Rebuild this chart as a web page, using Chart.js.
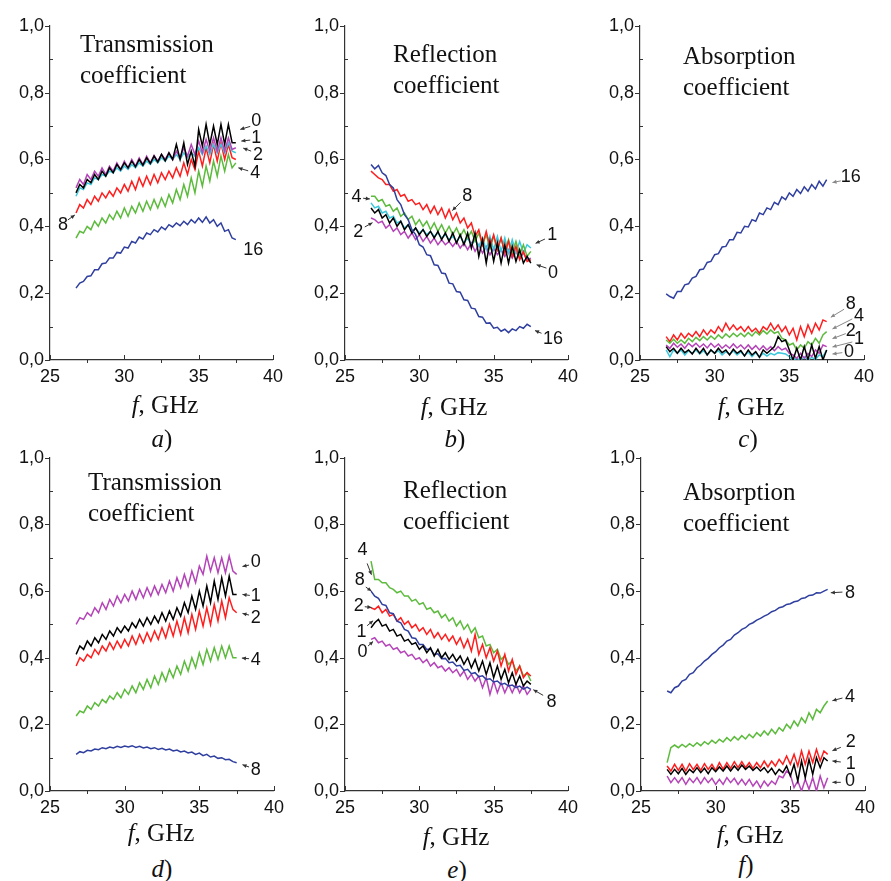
<!DOCTYPE html>
<html><head><meta charset="utf-8">
<script src="https://cdn.jsdelivr.net/npm/chart.js@4.4.1/dist/chart.umd.min.js"></script>
<style>
html,body{margin:0;padding:0;background:#fff;}
#wrap{position:relative;width:891px;height:881px;overflow:hidden;background:#fff;}
canvas{position:absolute;}
.ttl{position:absolute;font-family:"Liberation Serif","Times New Roman",serif;font-size:25px;line-height:31px;color:#111;white-space:nowrap;}
.xl,.pl{position:absolute;font-family:"Liberation Serif","Times New Roman",serif;font-size:25px;line-height:28px;color:#111;white-space:nowrap;transform:translateX(-50%);}
</style></head>
<body>
<div id="wrap">
<canvas id="ca" width="289" height="387" style="left:0px;top:9px"></canvas>
<canvas id="cb" width="289" height="387" style="left:295px;top:9px"></canvas>
<canvas id="cc" width="290" height="387" style="left:590px;top:9px"></canvas>
<canvas id="cd" width="290" height="386" style="left:0px;top:441px"></canvas>
<canvas id="ce" width="289" height="386" style="left:295px;top:441px"></canvas>
<canvas id="cf" width="290" height="386" style="left:591px;top:441px"></canvas>

<div class="ttl" style="left:80px;top:28px">Transmission<br>coefficient</div>
<div class="ttl" style="left:393px;top:38px">Reflection<br>coefficient</div>
<div class="ttl" style="left:683px;top:40px">Absorption<br>coefficient</div>
<div class="ttl" style="left:88px;top:466px">Transmission<br>coefficient</div>
<div class="ttl" style="left:403px;top:474px">Reflection<br>coefficient</div>
<div class="ttl" style="left:683px;top:476px">Absorption<br>coefficient</div>

<div class="xl" style="left:165px;top:391px"><i>f</i>, GHz</div>
<div class="xl" style="left:454px;top:393px"><i>f</i>, GHz</div>
<div class="xl" style="left:751px;top:393px"><i>f</i>, GHz</div>
<div class="xl" style="left:161px;top:819px"><i>f</i>, GHz</div>
<div class="xl" style="left:456px;top:823px"><i>f</i>, GHz</div>
<div class="xl" style="left:750px;top:821px"><i>f</i>, GHz</div>

<div class="pl" style="left:162px;top:425px"><i>a</i>)</div>
<div class="pl" style="left:455px;top:425px"><i>b</i>)</div>
<div class="pl" style="left:748px;top:425px"><i>c</i>)</div>
<div class="pl" style="left:162px;top:855px"><i>d</i>)</div>
<div class="pl" style="left:457px;top:856px"><i>e</i>)</div>
<div class="pl" style="left:746px;top:851px"><i>f</i>)</div>
</div>
<script>
// ---------- DATA ----------
const freq = [26.75,27,27.25,27.5,27.75,28,28.25,28.5,28.75,29,29.25,
29.5,29.75,30,30.25,30.5,30.75,31,31.25,31.5,31.75,32,
32.25,32.5,32.75,33,33.25,33.5,33.75,34,34.25,34.5,34.75,
35,35.25,35.5,35.75,36,36.25,36.5,36.75,37,37.25,37.5];
const yTicks = [0,0.2,0.4,0.6,0.8,1.0];
const xTicks = [25,30,35,40];

// (a) Transmission, top row
const transA0 = [0.50,0.525,0.515,0.54,0.53,0.555,0.54,0.565,0.55,0.575,0.56,
0.585,0.57,0.59,0.575,0.595,0.578,0.60,0.583,0.605,0.588,0.61,
0.592,0.615,0.596,0.62,0.60,0.645,0.60,0.65,0.585,0.625,0.58,
0.69,0.64,0.705,0.645,0.70,0.645,0.705,0.645,0.705,0.65,0.65];
const transA1 = [0.49,0.515,0.51,0.53,0.525,0.545,0.54,0.555,0.55,0.565,0.56,
0.575,0.565,0.58,0.57,0.585,0.575,0.59,0.58,0.595,0.585,0.60,
0.59,0.605,0.595,0.61,0.60,0.615,0.60,0.62,0.605,0.62,0.61,
0.635,0.615,0.64,0.615,0.645,0.62,0.645,0.62,0.65,0.625,0.62];
const transA2 = [0.515,0.54,0.525,0.555,0.54,0.565,0.55,0.575,0.555,0.58,0.565,
0.59,0.57,0.595,0.575,0.60,0.58,0.605,0.585,0.61,0.59,0.612,
0.595,0.615,0.60,0.62,0.60,0.625,0.605,0.635,0.61,0.645,0.615,
0.655,0.62,0.66,0.625,0.665,0.625,0.665,0.625,0.665,0.63,0.635];
const transA4 = [0.365,0.385,0.38,0.40,0.39,0.415,0.40,0.425,0.41,0.435,0.42,
0.445,0.425,0.455,0.43,0.46,0.44,0.47,0.445,0.475,0.45,0.48,
0.455,0.485,0.46,0.495,0.47,0.51,0.48,0.525,0.49,0.545,0.50,
0.565,0.52,0.58,0.535,0.595,0.55,0.61,0.565,0.615,0.575,0.59];
const transA8 = [0.44,0.465,0.455,0.48,0.465,0.49,0.475,0.50,0.485,0.505,0.49,
0.515,0.50,0.525,0.505,0.535,0.51,0.545,0.52,0.55,0.525,0.555,
0.53,0.56,0.54,0.565,0.545,0.575,0.55,0.59,0.555,0.60,0.57,
0.625,0.58,0.635,0.59,0.645,0.595,0.65,0.60,0.645,0.605,0.60];
const transA16 = [0.215,0.23,0.235,0.25,0.252,0.27,0.27,0.288,0.29,0.305,0.305,
0.322,0.32,0.338,0.335,0.355,0.35,0.368,0.362,0.38,0.375,0.39,
0.383,0.398,0.39,0.405,0.398,0.41,0.402,0.415,0.405,0.42,0.41,
0.425,0.412,0.428,0.41,0.42,0.40,0.41,0.385,0.39,0.365,0.36];

// (b) Reflection, top row
const reflB0 = [0.455,0.44,0.45,0.425,0.435,0.41,0.425,0.40,0.415,0.39,0.405,
0.38,0.395,0.375,0.39,0.37,0.385,0.365,0.385,0.36,0.38,0.355,
0.38,0.35,0.375,0.345,0.38,0.335,0.38,0.31,0.36,0.29,0.355,
0.295,0.35,0.29,0.345,0.29,0.34,0.295,0.33,0.29,0.31,0.29];
const reflB1 = [0.47,0.455,0.46,0.44,0.445,0.425,0.43,0.41,0.415,0.395,0.405,
0.385,0.395,0.38,0.39,0.375,0.385,0.37,0.38,0.365,0.375,0.36,
0.37,0.355,0.37,0.35,0.365,0.345,0.36,0.34,0.365,0.33,0.37,
0.33,0.37,0.325,0.365,0.32,0.36,0.32,0.355,0.32,0.345,0.335];
const reflB2 = [0.425,0.42,0.41,0.415,0.395,0.405,0.385,0.395,0.375,0.385,0.365,
0.38,0.36,0.375,0.355,0.37,0.35,0.365,0.345,0.36,0.345,0.355,
0.34,0.355,0.335,0.35,0.33,0.35,0.325,0.345,0.32,0.34,0.315,
0.335,0.315,0.33,0.31,0.33,0.305,0.325,0.305,0.32,0.30,0.305];
const reflB4 = [0.49,0.49,0.475,0.48,0.46,0.465,0.445,0.455,0.43,0.44,0.42,
0.43,0.405,0.42,0.40,0.415,0.39,0.41,0.385,0.405,0.38,0.40,
0.375,0.395,0.37,0.39,0.365,0.385,0.355,0.38,0.345,0.375,0.335,
0.37,0.33,0.365,0.325,0.36,0.32,0.355,0.315,0.345,0.31,0.325];
const reflB8 = [0.565,0.555,0.545,0.54,0.525,0.525,0.505,0.51,0.49,0.495,0.475,
0.48,0.465,0.47,0.45,0.465,0.44,0.46,0.435,0.455,0.425,0.45,
0.42,0.44,0.41,0.425,0.395,0.41,0.37,0.39,0.345,0.385,0.34,
0.375,0.33,0.365,0.32,0.355,0.31,0.34,0.30,0.325,0.295,0.30];
const reflB16 = [0.585,0.572,0.582,0.56,0.552,0.525,0.515,0.48,0.465,0.435,0.42,
0.39,0.375,0.345,0.338,0.315,0.312,0.285,0.283,0.26,0.258,0.23,
0.228,0.205,0.203,0.18,0.178,0.155,0.153,0.13,0.128,0.11,0.111,
0.095,0.098,0.086,0.092,0.082,0.093,0.088,0.1,0.095,0.107,0.1];

// (c) Absorption, top row
const absC0 = [0.04,0.025,0.035,0.02,0.035,0.022,0.03,0.018,0.035,0.02,0.035,
0.015,0.03,0.02,0.035,0.022,0.03,0.015,0.032,0.02,0.028,0.012,
0.03,0.015,0.025,0.008,0.03,0.02,0.03,0.04,0.07,0.055,0.06,
0.03,0.0,0.035,0.0,0.04,0.0,0.045,0.005,0.04,0.0,0.03];
const absC1 = [0.03,0.01,0.03,0.02,0.03,0.015,0.028,0.02,0.03,0.018,0.028,
0.015,0.03,0.02,0.028,0.015,0.025,0.018,0.027,0.015,0.025,0.012,
0.024,0.01,0.022,0.008,0.02,0.012,0.02,0.015,0.022,0.02,0.018,
0.01,0.0,0.005,0.0,0.01,0.0,0.008,0.002,0.015,0.01,0.03];
const absC2 = [0.045,0.035,0.05,0.038,0.048,0.035,0.05,0.04,0.05,0.038,0.048,
0.036,0.05,0.038,0.048,0.035,0.045,0.035,0.048,0.036,0.045,0.033,
0.045,0.032,0.043,0.03,0.042,0.03,0.04,0.028,0.04,0.03,0.035,
0.02,0.015,0.005,0.02,0.005,0.02,0.01,0.03,0.02,0.045,0.04];
const absC4 = [0.06,0.05,0.062,0.05,0.06,0.05,0.065,0.055,0.068,0.058,0.07,
0.06,0.072,0.062,0.075,0.065,0.078,0.068,0.08,0.07,0.08,0.07,
0.082,0.072,0.085,0.075,0.088,0.078,0.09,0.08,0.085,0.065,0.06,
0.045,0.05,0.03,0.045,0.035,0.055,0.045,0.065,0.05,0.075,0.085];
const absC8 = [0.07,0.055,0.075,0.06,0.08,0.065,0.08,0.07,0.085,0.07,0.09,
0.075,0.09,0.08,0.10,0.085,0.11,0.09,0.105,0.09,0.10,0.085,
0.10,0.085,0.095,0.08,0.10,0.09,0.11,0.09,0.105,0.085,0.10,
0.075,0.095,0.06,0.10,0.07,0.105,0.08,0.11,0.09,0.12,0.115];
const absC16 = [0.198,0.19,0.185,0.205,0.205,0.225,0.228,0.245,0.25,0.27,0.272,
0.292,0.295,0.315,0.318,0.338,0.34,0.36,0.36,0.382,0.38,0.40,
0.398,0.42,0.415,0.44,0.435,0.455,0.45,0.472,0.465,0.488,0.48,
0.50,0.49,0.51,0.498,0.518,0.505,0.525,0.512,0.535,0.52,0.54];

// (d) Transmission, bottom row
const transD0 = [0.50,0.52,0.515,0.535,0.525,0.55,0.535,0.565,0.545,0.575,0.555,
0.585,0.565,0.59,0.57,0.60,0.575,0.605,0.58,0.61,0.585,0.615,
0.59,0.62,0.595,0.63,0.60,0.64,0.61,0.65,0.615,0.66,0.625,
0.675,0.65,0.705,0.66,0.70,0.655,0.70,0.655,0.705,0.66,0.65];
const transD1 = [0.41,0.435,0.425,0.45,0.435,0.46,0.445,0.47,0.455,0.48,0.465,
0.49,0.475,0.495,0.48,0.505,0.49,0.515,0.495,0.52,0.50,0.525,
0.505,0.535,0.51,0.54,0.515,0.55,0.525,0.565,0.535,0.585,0.545,
0.60,0.555,0.615,0.565,0.63,0.575,0.64,0.585,0.645,0.59,0.59];
const transD2 = [0.375,0.40,0.39,0.41,0.40,0.425,0.41,0.435,0.42,0.445,0.425,
0.45,0.43,0.455,0.435,0.465,0.44,0.47,0.445,0.475,0.45,0.48,
0.455,0.49,0.46,0.50,0.465,0.51,0.47,0.52,0.475,0.53,0.485,
0.54,0.495,0.55,0.50,0.56,0.51,0.57,0.52,0.58,0.545,0.535];
const transD4 = [0.225,0.24,0.235,0.255,0.245,0.265,0.255,0.275,0.265,0.285,0.275,
0.295,0.28,0.305,0.29,0.315,0.295,0.325,0.305,0.335,0.31,0.345,
0.32,0.355,0.33,0.365,0.34,0.375,0.35,0.39,0.36,0.40,0.37,
0.415,0.38,0.425,0.39,0.43,0.395,0.435,0.40,0.435,0.40,0.40];
const transD8 = [0.11,0.118,0.115,0.122,0.12,0.126,0.124,0.13,0.127,0.132,0.129,
0.134,0.131,0.135,0.132,0.136,0.131,0.134,0.129,0.132,0.127,0.13,
0.125,0.128,0.123,0.126,0.12,0.123,0.117,0.12,0.114,0.117,0.11,
0.114,0.106,0.11,0.102,0.105,0.098,0.1,0.094,0.095,0.088,0.085];

// (e) Reflection, bottom row
const reflE0 = [0.455,0.46,0.445,0.45,0.435,0.44,0.425,0.43,0.415,0.42,0.405,
0.41,0.395,0.40,0.385,0.395,0.375,0.385,0.37,0.375,0.36,0.37,
0.355,0.365,0.345,0.36,0.335,0.35,0.33,0.345,0.31,0.34,0.29,
0.33,0.295,0.325,0.295,0.32,0.295,0.32,0.295,0.315,0.29,0.305];
const reflE1 = [0.49,0.505,0.515,0.495,0.5,0.48,0.485,0.465,0.47,0.45,0.455,
0.44,0.445,0.425,0.435,0.415,0.43,0.405,0.425,0.4,0.415,0.395,
0.41,0.39,0.405,0.38,0.40,0.37,0.395,0.36,0.39,0.35,0.385,
0.34,0.375,0.335,0.365,0.325,0.355,0.32,0.345,0.315,0.33,0.32];
const reflE2 = [0.55,0.545,0.555,0.535,0.545,0.525,0.53,0.51,0.52,0.5,0.51,
0.49,0.5,0.48,0.49,0.47,0.485,0.46,0.475,0.455,0.47,0.45,
0.465,0.44,0.46,0.43,0.455,0.42,0.47,0.41,0.44,0.40,0.43,
0.39,0.42,0.375,0.41,0.36,0.395,0.35,0.375,0.34,0.355,0.345];
const reflE4 = [0.69,0.635,0.635,0.625,0.625,0.61,0.605,0.595,0.6,0.585,0.585,
0.57,0.575,0.56,0.565,0.545,0.55,0.535,0.54,0.52,0.53,0.51,
0.52,0.495,0.51,0.485,0.5,0.475,0.49,0.46,0.465,0.435,0.44,
0.415,0.425,0.395,0.405,0.38,0.39,0.36,0.375,0.345,0.355,0.33];
const reflE8 = [0.60,0.585,0.578,0.56,0.557,0.535,0.532,0.51,0.505,0.485,0.48,
0.46,0.458,0.44,0.44,0.425,0.427,0.41,0.412,0.397,0.398,0.385,
0.387,0.375,0.377,0.362,0.365,0.352,0.355,0.343,0.346,0.335,0.337,
0.327,0.33,0.32,0.323,0.315,0.318,0.31,0.315,0.306,0.312,0.305];

// (f) Absorption, bottom row
const absF0 = [0.045,0.025,0.04,0.025,0.04,0.02,0.038,0.025,0.04,0.022,0.04,
0.025,0.038,0.02,0.035,0.02,0.04,0.025,0.038,0.02,0.035,0.018,
0.035,0.015,0.03,0.01,0.03,0.015,0.03,0.02,0.045,0.04,0.06,
0.05,0.01,0.03,0.0,0.035,0.005,0.04,0.0,0.045,0.01,0.04];
const absF1 = [0.065,0.05,0.065,0.052,0.068,0.05,0.065,0.055,0.07,0.055,0.068,
0.052,0.07,0.058,0.072,0.06,0.075,0.06,0.075,0.062,0.078,0.065,
0.075,0.062,0.072,0.06,0.07,0.055,0.068,0.05,0.065,0.055,0.075,
0.045,0.08,0.03,0.09,0.04,0.095,0.05,0.1,0.07,0.1,0.09];
const absF2 = [0.075,0.06,0.08,0.062,0.08,0.06,0.082,0.064,0.08,0.062,0.082,
0.065,0.08,0.062,0.085,0.066,0.085,0.068,0.088,0.07,0.088,0.07,
0.085,0.068,0.085,0.07,0.09,0.072,0.09,0.075,0.095,0.08,0.105,
0.08,0.11,0.075,0.12,0.08,0.12,0.085,0.125,0.09,0.12,0.11];
const absF4 = [0.085,0.13,0.138,0.13,0.14,0.132,0.142,0.134,0.145,0.136,0.148,
0.14,0.152,0.143,0.155,0.147,0.16,0.15,0.163,0.153,0.166,0.156,
0.17,0.16,0.175,0.165,0.18,0.168,0.185,0.172,0.19,0.18,0.2,
0.188,0.21,0.195,0.22,0.205,0.235,0.215,0.245,0.235,0.255,0.27];
const absF8 = [0.30,0.295,0.31,0.315,0.33,0.335,0.35,0.355,0.37,0.378,0.39,
0.398,0.41,0.418,0.43,0.438,0.45,0.455,0.468,0.475,0.485,0.49,
0.50,0.505,0.513,0.518,0.525,0.53,0.538,0.542,0.55,0.553,0.56,
0.562,0.568,0.57,0.578,0.58,0.587,0.588,0.595,0.594,0.60,0.605];

// ---------- STYLE ----------
const C = {k:'#000000', c:'#3cc8dc', m:'#b444b8', r:'#ff1e1e', g:'#5cbb3c', b:'#2f3f9f'};
const FONT = '"Liberation Sans", Arial, sans-serif';

// curve labels: [text, fText, vText, fFrom, vFrom, fTo, vTo]
const labA = [['0',38.87,0.714,38.47,0.699,37.8,0.69],['1',38.87,0.664,38.47,0.658,37.87,0.655],
  ['2',39.0,0.614,38.53,0.625,38.0,0.634],['4',38.8,0.56,38.33,0.566,37.67,0.575],
  ['8',25.87,0.404,26.2,0.419,26.67,0.434],['16',38.67,0.33]];
const labB = [['8',33.22,0.49,32.78,0.472,32.22,0.447],['4',25.78,0.487,26.22,0.484,26.67,0.482],
  ['2',25.89,0.383,26.33,0.398,26.85,0.411],['1',38.95,0.374,38.45,0.362,37.82,0.349],
  ['0',39.0,0.26,38.55,0.275,37.89,0.285],['16',39.0,0.064,38.22,0.08,37.78,0.088]];
const labC = [['16',39.11,0.546,38.45,0.536,37.89,0.531],['8',39.11,0.167,38.67,0.152,37.78,0.128],
  ['4',39.67,0.133,39.22,0.123,37.89,0.093],['2',39.11,0.088,38.78,0.079,37.89,0.064],
  ['1',39.67,0.064,39.22,0.054,37.89,0.039],['0',39.0,0.024,38.55,0.022,37.89,0.018]];
const labD = [['0',38.78,0.688,38.33,0.678,37.89,0.674],['1',38.78,0.585,38.38,0.587,37.89,0.59],
  ['2',38.78,0.518,38.33,0.528,37.89,0.533],['4',38.78,0.393,38.33,0.397,37.85,0.399],
  ['8',38.78,0.064,38.33,0.072,37.89,0.079]];
const labE = [['4',26.18,0.723,26.49,0.683,26.78,0.649],['8',26.0,0.632,26.4,0.612,26.78,0.60],
  ['2',25.93,0.555,26.33,0.553,26.78,0.551],['1',26.11,0.478,26.49,0.496,26.89,0.511],
  ['0',26.18,0.417,26.55,0.435,26.89,0.449],['8',38.89,0.267,38.33,0.287,37.67,0.304]];
const labF = [['8',39.0,0.593,38.49,0.597,37.71,0.595],['4',39.0,0.281,38.49,0.279,37.82,0.271],
  ['2',39.05,0.146,38.38,0.131,37.82,0.121],['1',39.05,0.082,38.38,0.087,37.82,0.09],
  ['0',39.0,0.03,38.38,0.026,37.82,0.026]];

function ser(vals, color){
  return {data: freq.map((f,i)=>({x:f, y:vals[i]})), borderColor: color, borderWidth: 1.5,
    pointRadius: 0, tension: 0, fill: false};
}

function mkPlugin(items, arrowColor){
  return {id:'annot', afterDraw(chart){
    const ctx = chart.ctx, xs = chart.scales.x, ys = chart.scales.y, A = chart.chartArea;
    ctx.save();
    ctx.strokeStyle = '#333'; ctx.lineWidth = 1;
    ctx.beginPath();
    for (let i = 0; i <= 10; i++){
      const py = Math.round(ys.getPixelForValue(i/10)) + 0.5;
      if (i % 2 === 0){ ctx.moveTo(A.left - 5, py); ctx.lineTo(A.left, py); }
      else { ctx.moveTo(A.left, py); ctx.lineTo(A.left + 3, py); }
    }
    for (let f = 25; f <= 40; f += 2.5){
      const px = Math.round(xs.getPixelForValue(f)) + 0.5;
      if (f % 5 === 0){ ctx.moveTo(px, A.bottom); ctx.lineTo(px, A.bottom - 5); }
      else { ctx.moveTo(px, A.bottom); ctx.lineTo(px, A.bottom + 3); }
    }
    ctx.stroke();
    ctx.font = '18px ' + FONT; ctx.fillStyle = '#111';
    ctx.textAlign = 'center'; ctx.textBaseline = 'middle';
    items.forEach(it => {
      ctx.fillText(it[0], xs.getPixelForValue(it[1]), ys.getPixelForValue(it[2]));
      if (it.length > 3){
        const x1 = xs.getPixelForValue(it[3]), y1 = ys.getPixelForValue(it[4]);
        const x2 = xs.getPixelForValue(it[5]), y2 = ys.getPixelForValue(it[6]);
        ctx.strokeStyle = arrowColor; ctx.fillStyle = arrowColor; ctx.lineWidth = 1;
        ctx.beginPath(); ctx.moveTo(x1, y1); ctx.lineTo(x2, y2); ctx.stroke();
        const ang = Math.atan2(y2 - y1, x2 - x1), h = 4.5;
        ctx.beginPath(); ctx.moveTo(x2, y2);
        ctx.lineTo(x2 - h*Math.cos(ang - 0.45), y2 - h*Math.sin(ang - 0.45));
        ctx.lineTo(x2 - h*Math.cos(ang + 0.45), y2 - h*Math.sin(ang + 0.45));
        ctx.closePath(); ctx.fill();
        ctx.fillStyle = '#111';
      }
    });
    ctx.restore();
  }};
}

function makeChart(id, datasets, items, arrowColor){
  const axisCommon = {
    grid: {display: true, drawOnChartArea: false, drawTicks: false},
    border: {display: true, color: '#333', width: 1.2}
  };
  new Chart(document.getElementById(id), {
    type: 'line',
    data: {datasets},
    options: {
      responsive: false, animation: false, events: [],
      layout: {padding: {left: 0, top: 12, right: 14, bottom: 0}},
      plugins: {legend: {display: false}, tooltip: {enabled: false}},
      scales: {
        x: Object.assign({type: 'linear', min: 25, max: 40,
          afterBuildTicks(s){ s.ticks = xTicks.map(v => ({value: v})); },
          ticks: {padding: 6, color: '#111', font: {family: FONT, size: 18}, maxRotation: 0},
          afterFit(s){ s.height = 36; }}, axisCommon),
        y: Object.assign({type: 'linear', min: 0, max: 1,
          afterBuildTicks(s){ s.ticks = yTicks.map(v => ({value: v})); },
          ticks: {padding: 6, color: '#111', font: {family: FONT, size: 18},
            callback: v => Number(v).toFixed(1).replace('.', ',')},
          afterFit(s){ s.width = 50; }}, axisCommon)
      }
    },
    plugins: [mkPlugin(items, arrowColor)]
  });
}

makeChart('ca', [ser(transA0,C.k), ser(transA2,C.m), ser(transA1,C.c), ser(transA8,C.r), ser(transA4,C.g), ser(transA16,C.b)], labA, '#333');
makeChart('cb', [ser(reflB16,C.b), ser(reflB0,C.k), ser(reflB8,C.r), ser(reflB4,C.g), ser(reflB1,C.c), ser(reflB2,C.m)], labB, '#333');
makeChart('cc', [ser(absC0,C.k), ser(absC2,C.m), ser(absC1,C.c), ser(absC4,C.g), ser(absC8,C.r), ser(absC16,C.b)], labC, '#888');
makeChart('cd', [ser(transD1,C.k), ser(transD0,C.m), ser(transD2,C.r), ser(transD4,C.g), ser(transD8,C.b)], labD, '#333');
makeChart('ce', [ser(reflE1,C.k), ser(reflE8,C.b), ser(reflE0,C.m), ser(reflE2,C.r), ser(reflE4,C.g)], labE, '#333');
makeChart('cf', [ser(absF1,C.k), ser(absF0,C.m), ser(absF2,C.r), ser(absF4,C.g), ser(absF8,C.b)], labF, '#333');
</script>
</body></html>
